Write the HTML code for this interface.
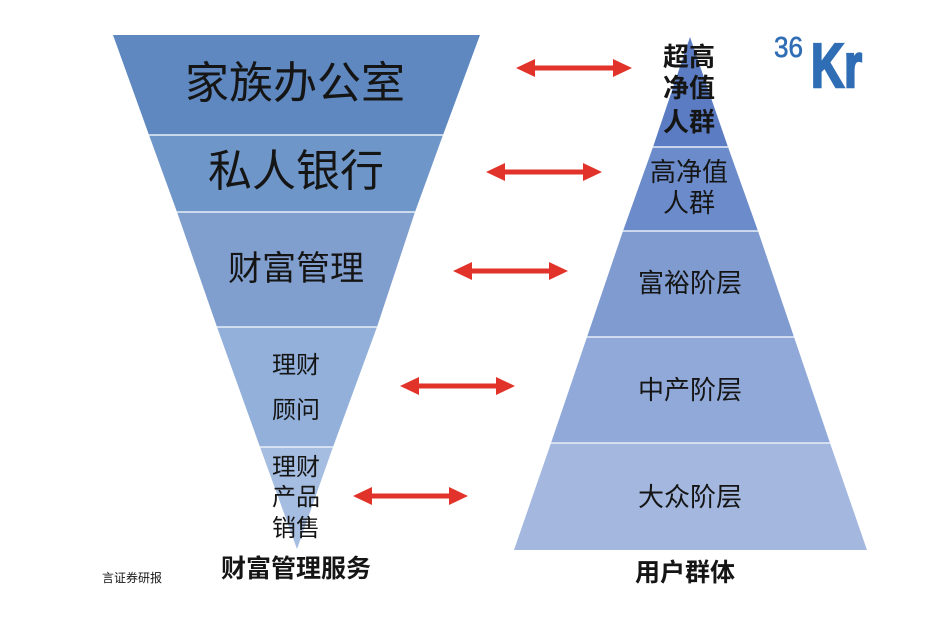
<!DOCTYPE html>
<html><head><meta charset="utf-8"><style>
html,body{margin:0;padding:0;background:#fff;}
svg{display:block;}
text{font-family:"Liberation Sans","Noto Sans CJK SC",sans-serif;fill:#151515;}
</style></head><body>
<svg width="950" height="632" viewBox="0 0 950 632" xmlns="http://www.w3.org/2000/svg">
<rect width="950" height="632" fill="#fff"/>
<!-- Left inverted triangle -->
<polygon points="113,35 480,35 443,135 149,135" fill="#5e88bf"/>
<polygon points="149,135 443,135 415,212 177,212" fill="#6f96c8"/>
<polygon points="177,212 415,212 377,327 217,327" fill="#809fcf"/>
<polygon points="217,327 377,327 333,447 260,447" fill="#93b0da"/>
<polygon points="260,447 333,447 297,549" fill="#a5bde1"/>
<g stroke="#e8eef7" stroke-width="1.5">
<line x1="149" y1="135" x2="443" y2="135"/>
<line x1="177" y1="212" x2="415" y2="212"/>
<line x1="217" y1="327" x2="377" y2="327"/>
<line x1="260" y1="447" x2="333" y2="447"/>
</g>
<!-- Right pyramid -->
<polygon points="690,37 728,147 653,147" fill="#5b7cc2"/>
<polygon points="653,147 728,147 758,231 623,231" fill="#6c8bca"/>
<polygon points="623,231 758,231 794,337 587,337" fill="#7f9bd0"/>
<polygon points="587,337 794,337 830,443 551,443" fill="#91a9d9"/>
<polygon points="551,443 830,443 867,550 514,550" fill="#a4b8df"/>
<g stroke="#e8eef7" stroke-width="1.5">
<line x1="653" y1="147" x2="728" y2="147"/>
<line x1="623" y1="231" x2="758" y2="231"/>
<line x1="587" y1="337" x2="794" y2="337"/>
<line x1="551" y1="443" x2="830" y2="443"/>
</g>
<!-- Arrows -->
<g fill="#e2332a">
<polygon points="516,68 535,59 535,65.5 613,65.5 613,59 632,68 613,77 613,70.5 535,70.5 535,77"/>
<polygon points="486,172 505,163 505,169.5 583,169.5 583,163 602,172 583,181 583,174.5 505,174.5 505,181"/>
<polygon points="453,271 472,262 472,268.5 549,268.5 549,262 568,271 549,280 549,273.5 472,273.5 472,280"/>
<polygon points="400,386 419,377 419,383.5 496,383.5 496,377 515,386 496,395 496,388.5 419,388.5 419,395"/>
<polygon points="353,496 372,487 372,493.5 449,493.5 449,487 468,496 449,505 449,498.5 372,498.5 372,505"/>
</g>
<!-- Left labels -->
<text x="295" y="98" font-size="44" text-anchor="middle">家族办公室</text>
<text x="296" y="186" font-size="44" text-anchor="middle">私人银行</text>
<text x="296" y="280" font-size="34" text-anchor="middle">财富管理</text>
<text x="296" y="373" font-size="24" text-anchor="middle">理财</text>
<text x="296" y="418" font-size="24" text-anchor="middle">顾问</text>
<text x="296" y="475" font-size="24" text-anchor="middle">理财</text>
<text x="296" y="505" font-size="24" text-anchor="middle">产品</text>
<text x="296" y="536" font-size="24" text-anchor="middle">销售</text>
<text x="296" y="577" font-size="25" font-weight="bold" text-anchor="middle">财富管理服务</text>
<text x="102" y="582" font-size="12">言证券研报</text>
<!-- Right labels -->
<text x="689" y="66" font-size="26" font-weight="bold" text-anchor="middle">超高</text>
<text x="689" y="97" font-size="26" font-weight="bold" text-anchor="middle">净值</text>
<text x="689" y="131" font-size="26" font-weight="bold" text-anchor="middle">人群</text>
<text x="689" y="181" font-size="26" text-anchor="middle">高净值</text>
<text x="689" y="212" font-size="26" text-anchor="middle">人群</text>
<text x="690" y="292" font-size="26" text-anchor="middle">富裕阶层</text>
<text x="690" y="399" font-size="26" text-anchor="middle">中产阶层</text>
<text x="690" y="506" font-size="26" text-anchor="middle">大众阶层</text>
<text x="685" y="581" font-size="25" font-weight="bold" text-anchor="middle">用户群体</text>
<!-- Logo -->
<text x="774" y="57" font-size="29" style="fill:#2f6db5;stroke:#2f6db5;stroke-width:0.6" textLength="29" lengthAdjust="spacingAndGlyphs">36</text>
<text x="811" y="87" font-size="62" font-weight="bold" style="fill:#2f6db5;stroke:#2f6db5;stroke-width:2.5" textLength="51" lengthAdjust="spacingAndGlyphs">Kr</text>
</svg>
</body></html>
